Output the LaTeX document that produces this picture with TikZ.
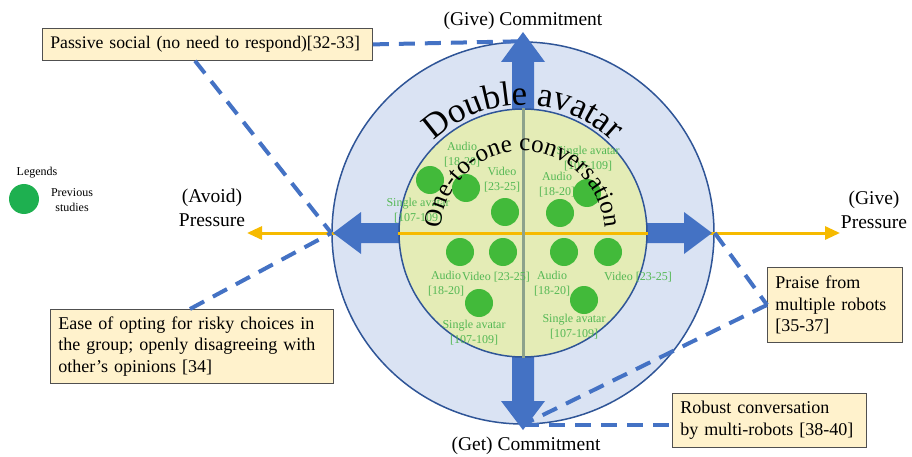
\documentclass[tikz,border=0pt]{standalone}
\usepackage{fontspec}
\setmainfont{Liberation Serif}
\usetikzlibrary{calc,decorations.text,arrows.meta}

\definecolor{ringblue}{RGB}{218,227,243}
\definecolor{rimblue}{RGB}{47,85,151}
\definecolor{arrowblue}{RGB}{68,114,196}
\definecolor{corefill}{RGB}{228,236,182}
\definecolor{axisgray}{RGB}{140,162,140}
\definecolor{axisyellow}{RGB}{246,186,0}
\definecolor{dotgreen}{RGB}{66,186,58}
\definecolor{labelgreen}{RGB}{84,184,84}
\definecolor{legendgreen}{RGB}{30,176,80}
\definecolor{notefill}{RGB}{255,242,204}
\definecolor{noteedge}{RGB}{80,80,80}

\begin{document}
\begin{tikzpicture}[x=1pt,y=1pt,
  note/.style={draw=noteedge, line width=0.8pt, fill=notefill,
    font=\fontsize{18}{21.5}\selectfont, align=left,
    inner xsep=8pt, inner ysep=4pt, anchor=north west},
  link/.style={draw=arrowblue, line width=4pt, dash pattern=on 16pt off 10pt},
  study/.style={circle, fill=dotgreen, minimum size=28pt, inner sep=0pt},
  studylabel/.style={text=labelgreen, font=\fontsize{12}{15}\selectfont,
    align=center, inner sep=0pt},
  axislabel/.style={font=\fontsize{19.5}{23.5}\selectfont, align=center,
    inner sep=0pt, anchor=base},
  blockarrow/.style={fill=arrowblue},
]
\useasboundingbox (0,-457) rectangle (912,0);

\coordinate (C) at (523,-233);

% outer ring
\node[circle, minimum size=382pt, inner sep=0pt, fill=ringblue,
      draw=rimblue, line width=1.5pt] (outer) at (C) {};

% horizontal pressure axis
\draw[axisyellow, line width=3pt,
      {Triangle[length=15pt,width=13pt]}-{Triangle[length=15pt,width=13pt]}]
  (247,-233) -- (840,-233);

% four block arrows
\begin{scope}[shift={(C)}]
  \fill[blockarrow] (-11,0) -- (-11,171) -- (-22,171) -- (0,201)
                    -- (22,171) -- (11,171) -- (11,0) -- cycle;
  \fill[blockarrow] (-11,0) -- (-11,-168) -- (-22,-168) -- (0,-197)
                    -- (22,-168) -- (11,-168) -- (11,0) -- cycle;
  \fill[blockarrow] (0,-10) -- (-162,-10) -- (-162,-21) -- (-190,0)
                    -- (-162,21) -- (-162,10) -- (0,10) -- cycle;
  \fill[blockarrow] (0,-10) -- (161,-10) -- (161,-21) -- (189,0)
                    -- (161,21) -- (161,10) -- (0,10) -- cycle;
\end{scope}

% inner disc
\node[circle, minimum size=248pt, inner sep=0pt, fill=corefill,
      draw=rimblue, line width=1.5pt] (inner) at (C) {};
\draw[axisyellow, line width=3pt] (inner.west) -- (inner.east);
\draw[axisgray, line width=3pt] (inner.north) -- (inner.south);

% study labels
\node[studylabel] (l1) at (462,-155) {Audio\\{}[18-20]};
\node[studylabel] (l2) at (502,-180) {Video\\{}[23-25]};
\node[studylabel] (l3) at (418,-211) {Single avatar\\{}[107-109]};
\node[studylabel] (l4) at (588,-159) {Single avatar\\{}[107-109]};
\node[studylabel] (l5) at (557,-185) {Audio\\{}[18-20]};
\node[studylabel] (l6) at (446,-284) {Audio\\{}[18-20]};
\node[studylabel] (l7) at (496,-277) {Video [23-25]};
\node[studylabel] (l8) at (552,-284) {Audio\\{}[18-20]};
\node[studylabel] (l9) at (638,-277) {Video [23-25]};
\node[studylabel] (l10) at (474,-333) {Single avatar\\{}[107-109]};
\node[studylabel] (l11) at (574,-327) {Single avatar\\{}[107-109]};

% study markers
\node[study] (s1) at (430,-180) {};
\node[study] (s2) at (466,-188) {};
\node[study] (s3) at (505,-212) {};
\node[study] (s4) at (560,-213) {};
\node[study] (s5) at (587,-193) {};
\node[study] (s6) at (460,-252) {};
\node[study] (s7) at (503,-252) {};
\node[study] (s8) at (564,-252) {};
\node[study] (s9) at (608,-252) {};
\node[study] (s10) at (479,-303) {};
\node[study] (s11) at (584,-300) {};

% curved titles
\path[decorate, decoration={text along path, text align=center,
      text={|\fontsize{35}{40}\selectfont|Double avatar}}]
  ($(C)+(170:128)$) arc[start angle=170, end angle=10, radius=128];
\path[decorate, decoration={text along path, text align=center,
      text={|\fontsize{25}{30}\selectfont|One-to-one conversation}}]
  ($(C)+(188:82)$) arc[start angle=188, end angle=-8, radius=82];

% axis labels
\node[axislabel] (give) at (523,-26) {(Give) Commitment};
\node[axislabel] (get) at (526,-450) {(Get) Commitment};
\node[axislabel] (avoid) at (212,-226) {(Avoid)\\Pressure};
\node[axislabel] (givep) at (874,-228) {(Give)\\Pressure};

% legend
\node[font=\fontsize{12}{15}\selectfont, inner sep=0pt] (legtitle) at (37,-173) {Legends};
\node[circle, fill=legendgreen, minimum size=30pt, inner sep=0pt] (legdot) at (24,-199) {};
\node[font=\fontsize{12}{15}\selectfont, align=center, inner sep=0pt] (legtext) at (72,-200) {Previous\\studies};

% notes
\node[note, text width=314pt, minimum height=32pt, font=\fontsize{17.7}{21.5}\selectfont] (box1) at (42,-28)
  {\mbox{Passive social (no need to respond)[32-33]}};
\node[note, text width=267pt, minimum height=74pt] (box2) at (50,-309)
  {Ease of opting for risky choices in\\the group; openly disagreeing with\\other’s opinions [34]};
\node[note, text width=119pt, minimum height=75pt] (box3) at (767,-267)
  {Praise from\\multiple robots\\{}[35-37]};
\node[note, text width=178pt, minimum height=54pt] (box4) at (672,-393)
  {Robust conversation\\by multi-robots [38-40]};

% dashed links from notes to the ring
\coordinate (b1foot) at ($(box1.south west)+(153,0)$);
\coordinate (b2head) at ($(box2.north west)+(140,0)$);
\draw[link] (box1.east) -- (outer.north);
\draw[link] (b1foot) -- (outer.west);
\draw[link] (b2head) -- (outer.west);
\draw[link] (outer.east) -- (box3.west);
\draw[link] (box3.west) -- (outer.south);
\draw[link] (outer.south) -- (outer.south -| box4.west);
\end{tikzpicture}
\end{document}
